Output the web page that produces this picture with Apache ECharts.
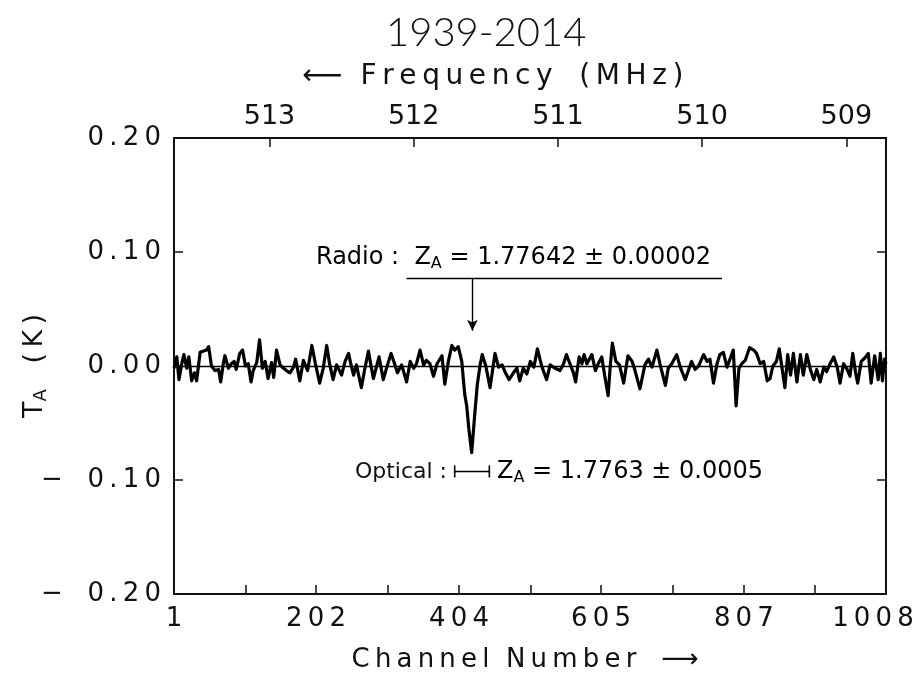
<!DOCTYPE html>
<html><head><meta charset="utf-8">
<script src="https://cdn.jsdelivr.net/npm/echarts@6/dist/echarts.min.js"></script>
<style>html,body{margin:0;padding:0;background:#fff}#c{width:922px;height:678px}</style>
</head><body><div id="c"></div>
<script>
// ---- data ----
const channels = [1,5,8,12,15,19,22,26,30,33,38,42,47,50,54,59,64,67,71,73,78,82,86,89,94,98,102,106,110,113,118,122,126,130,134,139,142,146,151,156,160,165,170,
173,179,184,190,196,201,207,212,217,221,226,231,238,243,248,251,255,259,266,271,276,280,283,291,297,302,308,313,317,323,330,335,340,
344,349,354,358,363,368,373,380,384,389,394,398,403,408,412,415,418,422,426,430,434,437,442,448,455,460,465,469,475,481,486,490,495,500,505,510,
515,521,528,533,540,547,552,556,561,566,569,574,578,581,585,592,597,601,606,610,615,618,621,626,631,637,643,649,653,660,667,672,677,
684,689,696,700,705,712,717,724,729,733,738,743,750,755,759,764,769,773,778,783,788,792,796,800,804,809,815,821,825,830,835,840,844,848,
853,857,861,865,869,873,877,882,887,891,896,901,906,910,915,920,924,929,934,939,943,948,953,957,961,965,968,973,978,983,987,992,997,1000,1003,1006,1008];
const tempK = [-0.002,0.008,-0.012,0.002,0.010,-0.002,0.008,-0.013,-0.006,-0.013,0.012,0.013,0.014,0.017,0.000,-0.004,-0.003,-0.014,0.003,0.009,-0.002,0.002,0.004,-0.003,0.011,0.014,0.000,0.002,-0.014,-0.004,0.003,0.023,-0.002,0.004,-0.011,0.003,-0.010,0.014,0.001,-0.002,-0.004,-0.006,-0.001,
0.006,-0.013,0.005,-0.004,0.018,0.002,-0.015,-0.002,0.018,0.002,-0.012,0.001,-0.008,0.004,0.011,0.002,-0.008,0.001,-0.019,-0.002,0.013,-0.001,-0.011,0.008,-0.012,-0.001,0.011,0.002,-0.006,0.001,-0.014,0.004,-0.002,
0.002,0.014,0.001,0.005,0.002,-0.009,0.002,0.009,-0.016,0.004,0.018,0.014,0.017,0.004,-0.024,-0.035,-0.055,-0.076,-0.045,-0.016,0.001,0.010,0.000,-0.019,0.011,-0.001,0.001,-0.005,-0.012,-0.006,-0.002,-0.013,-0.002,-0.007,0.004,-0.001,
0.015,0.000,-0.012,0.001,-0.002,-0.004,0.002,0.010,0.002,-0.006,-0.014,0.008,0.002,0.010,0.002,0.010,-0.004,0.002,0.008,-0.008,-0.026,0.000,0.020,0.004,0.001,-0.015,0.009,0.004,-0.004,-0.020,0.001,0.006,-0.001,
0.014,0.000,-0.017,-0.002,0.002,0.010,-0.001,-0.012,-0.003,0.004,-0.003,0.000,0.010,0.004,0.006,-0.015,0.002,0.010,0.012,-0.001,0.007,0.014,-0.035,-0.002,0.002,0.005,0.016,0.014,0.011,0.002,0.004,-0.013,-0.011,0.000,
0.004,0.015,-0.002,-0.019,0.010,-0.008,0.011,-0.014,0.010,-0.008,0.010,-0.003,-0.012,-0.003,-0.014,-0.001,-0.005,0.002,0.008,-0.001,-0.015,0.002,-0.003,-0.009,0.011,-0.006,-0.015,0.004,0.007,0.011,-0.015,0.009,-0.012,0.011,-0.013,0.006,0.002];
const channelTicks = [1,102,202,303,404,505,605,706,807,907,1008];
const channelLabels = [1,202,404,605,807,1008];
const freqTicks = [513,512,511,510,509];
const freqRange = [508.725, 513.662];   // frequency at channel 1008 and channel 1
const radioText = '1.77642 ± 0.00002';
const opticalText = '1.7763 ± 0.0005';
const radioChannel = 423;
const radioSpan = [330, 776];
const opticalSpan = [398, 447];

const FONT = 'DejaVu Sans';
const ink = '#111';
const TS = '\u2009';
const sp = s => s.split('').join(TS);          // wide lettering like the original
const chart = echarts.init(document.getElementById('c'), null, {renderer:'canvas'});
const lineData = channels.map((c,i)=>[c, tempK[i]]);
const tickFont = {fontFamily:FONT, fontSize:26, color:ink};

const option = {
  backgroundColor:'#fff',
  animation:false,
  title:{text:'1939-2014', left:381, top:8, textStyle:{fontFamily:'Lato', fontWeight:300, fontSize:40, color:'#111'}},
  grid:{left:174, right:36, top:138, bottom:84, show:true, borderColor:ink, borderWidth:2,
        containLabel:false, outerBoundsMode:'none'},
  xAxis:[
    {type:'value', position:'bottom', min:1, max:1008,
     axisLine:{show:true, onZero:false, lineStyle:{color:ink, width:2}},
     axisTick:{show:true, inside:true, length:9, customValues:channelTicks, lineStyle:{color:ink, width:1.5}},
     axisLabel:Object.assign({customValues:channelLabels, margin:12,
       formatter:v=> Math.round(v)===1008 ? '{e|' + sp('1008') + '}' : sp(String(Math.round(v))),
       rich:{e:Object.assign({padding:[0,26,0,0]}, tickFont)}}, tickFont),
     splitLine:{show:false},
     name:sp('Channel') + '  ' + sp('Number') + '   ⟶', nameLocation:'middle', nameGap:53, nameMoveOverlap:false,
     nameTextStyle:{fontFamily:FONT, fontSize:26, color:ink, padding:[0,10,0,0]}},
    {type:'value', position:'top', min:freqRange[0], max:freqRange[1], inverse:true,
     axisLine:{show:true, onZero:false, lineStyle:{color:ink, width:2}},
     axisTick:{show:true, inside:true, length:9, customValues:freqTicks, lineStyle:{color:ink, width:1.5}},
     axisLabel:Object.assign({customValues:freqTicks, margin:8}, tickFont, {fontSize:27}),
     splitLine:{show:false},
     name:'⟵  ' + sp('Frequency') + '   ' + sp('(MHz)'), nameLocation:'middle', nameGap:47, nameMoveOverlap:false,
     nameTextStyle:{fontFamily:FONT, fontSize:28, color:ink, padding:[0,74,0,0]}}
  ],
  yAxis:[
    {type:'value', min:-0.2, max:0.2, interval:0.1,
     axisLine:{show:true, onZero:false, lineStyle:{color:ink, width:2}},
     axisTick:{show:true, inside:true, length:9, lineStyle:{color:ink, width:1.5}},
     axisLabel:Object.assign({margin:13, formatter:v=> v < -1e-9 ? '−   ' + sp(Math.abs(v).toFixed(2)) : sp(Math.abs(v).toFixed(2))}, tickFont),
     splitLine:{show:false},
     name:'{t|T}{s|A}{t|   ' + sp('(K)') + '}', nameLocation:'middle', nameRotate:90, nameGap:124, nameMoveOverlap:false,
     nameTextStyle:{rich:{t:{fontFamily:FONT, fontSize:27, color:ink}, s:{fontFamily:FONT, fontSize:18, color:ink, padding:[13,0,0,0]}}}},
    {type:'value', position:'right', min:-0.2, max:0.2, interval:0.1,
     axisLine:{show:true, onZero:false, lineStyle:{color:ink, width:2}},
     axisTick:{show:true, inside:true, length:9, lineStyle:{color:ink, width:1.5}},
     axisLabel:{show:false}, splitLine:{show:false}}
  ],
  series:[{
    type:'line', xAxisIndex:0, yAxisIndex:0, data:lineData, showSymbol:false,
    lineStyle:{color:'#000', width:3.2, join:'round'}, z:3,
    markLine:{silent:true, symbol:['none','none'], label:{show:false},
      lineStyle:{color:'#000', type:'solid', width:1.4},
      data:[
        [{coord:[1,0]},{coord:[1008,0]}],
        [{coord:[radioSpan[0],0.0768]},{coord:[radioSpan[1],0.0768]}],
        [{coord:[radioChannel,0.0768]},{coord:[radioChannel,0.031], symbol:'arrow', symbolSize:[8,11]}]
      ]}
  }]
};
chart.setOption(option);

const px = (c,v)=>chart.convertToPixel({xAxisIndex:0, yAxisIndex:0},[c,v]);
const [ox1, oy] = px(opticalSpan[0], -0.0925);
const [ox2] = px(opticalSpan[1], -0.0925);
const subRich = {z:{fontFamily:FONT, fontSize:24, color:ink}, s:{fontFamily:FONT, fontSize:16, color:ink, padding:[12,0,0,0]}};
chart.setOption({graphic:[
  {type:'text', x:316, y:258, style:{text:'{z|Radio :  Z}{s|A}{z| = ' + radioText + '}', rich:subRich, verticalAlign:'middle', align:'left'}},
  {type:'text', x:447, y:472, style:{text:'Optical :', fontFamily:FONT, fontSize:22, fill:ink, verticalAlign:'middle', align:'right'}},
  {type:'line', shape:{x1:ox1, y1:oy, x2:ox2, y2:oy}, style:{stroke:'#000', lineWidth:1.6}},
  {type:'line', shape:{x1:ox1, y1:oy-6, x2:ox1, y2:oy+6}, style:{stroke:'#000', lineWidth:1.6}},
  {type:'line', shape:{x1:ox2, y1:oy-6, x2:ox2, y2:oy+6}, style:{stroke:'#000', lineWidth:1.6}},
  {type:'text', x:497, y:472, style:{text:'{z|Z}{s|A}{z| = ' + opticalText + '}', rich:subRich, verticalAlign:'middle', align:'left'}}
]});
</script></body></html>
